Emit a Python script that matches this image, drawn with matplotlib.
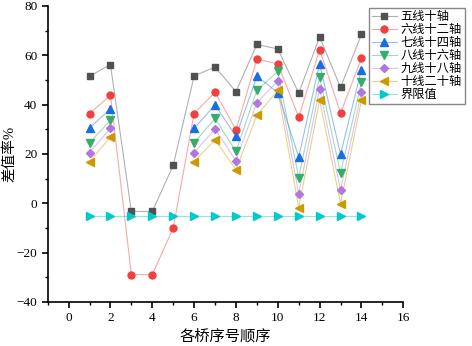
import numpy as np
import matplotlib

matplotlib.use("Agg")

import matplotlib.pyplot as plt
from matplotlib.ticker import MultipleLocator

plt.rcParams["font.family"] = ["Liberation Serif", "Noto Sans CJK SC", "DejaVu Sans"]

nan = np.nan
bridges = np.arange(1, 15)
labels = ["五线十轴", "六线十二轴", "七线十四轴", "八线十六轴", "九线十八轴", "十线二十轴", "界限值"]

five_10 = [51.6, 56.2, -3.3, -3.3, 15.4, 51.6, 55.3, 45.3, 64.4, 62.6, 44.7, 67.4, 47.0, 68.5]
six_12 = [36.4, 43.8, -28.9, -28.9, -10.0, 36.4, 45.1, 29.8, 58.4, 56.6, 34.9, 62.3, 36.6, 58.9]
seven_14 = [30.5, 38.4, nan, nan, nan, 30.4, 39.9, 27.2, 51.5, 44.9, 18.8, 56.6, 19.9, 54.2]
eight_16 = [24.5, 33.7, nan, nan, nan, 24.5, 34.4, 21.1, 45.8, 53.5, 10.4, 51.2, 12.2, 49.2]
nine_18 = [20.6, 30.5, nan, nan, nan, 20.6, 30.1, 17.3, 40.8, 49.6, 3.9, 46.4, 5.4, 45.1]
ten_20 = [16.8, 27.0, nan, nan, nan, 16.9, 25.8, 13.7, 35.7, 45.8, -1.7, 41.8, -0.1, 41.8]
limit = [-5] * 14

series = [five_10, six_12, seven_14, eight_16, nine_18, ten_20, limit]
colors = ["#515151", "#F14040", "#1A6FDF", "#37AD6B", "#B177DE", "#CC9900", "#00CBCC"]
markers = ["s", "o", "^", "v", "D", "<", ">"]
sizes = [4.2, 5, 5.2, 5.2, 4.3, 5.2, 5.2]

fig = plt.figure(figsize=(4.72, 3.46), dpi=100)
ax = fig.add_axes([47.7 / 472, 44 / 346, (403.3 - 47.7) / 472, (302 - 6) / 346])

handles = []
for values, color, marker, size in zip(series, colors, markers, sizes):
    line, = ax.plot(bridges, values, color=color, alpha=0.45, lw=0.8, zorder=2)
    dots, = ax.plot(bridges, values, ls="none", marker=marker, ms=size, color=color,
                    mec=color, zorder=3)
    handles.append((line, dots))

ax.set_xlim(-1, 16)
ax.set_ylim(-40, 80)
ax.xaxis.set_major_locator(MultipleLocator(2))
ax.xaxis.set_minor_locator(MultipleLocator(1))
ax.yaxis.set_major_locator(MultipleLocator(20))
ax.yaxis.set_minor_locator(MultipleLocator(10))
ax.spines["top"].set_visible(False)
ax.spines["right"].set_visible(False)
for side in ("left", "bottom"):
    ax.spines[side].set_linewidth(1.2)
ax.tick_params(which="major", direction="out", length=4, width=1.2, labelsize=9.5)
ax.tick_params(which="minor", direction="out", length=2.5, width=1)

ax.set_xlabel("各桥序号顺序", fontsize=11, labelpad=3)
ax.set_ylabel("差值率%", fontsize=10.5)
ax.yaxis.set_label_coords(-0.088, 0.5)

leg = ax.legend(handles, labels, loc="upper left", bbox_to_anchor=(369 / 472, 1 - 8 / 346),
                bbox_transform=fig.transFigure, fontsize=8.8, frameon=True,
                fancybox=False, edgecolor="#888888", handlelength=2.0,
                handletextpad=0.35, borderpad=0.25, labelspacing=0.08,
                borderaxespad=0, framealpha=1)
leg.get_frame().set_linewidth(1)

fig.savefig("out.png", dpi=100)
